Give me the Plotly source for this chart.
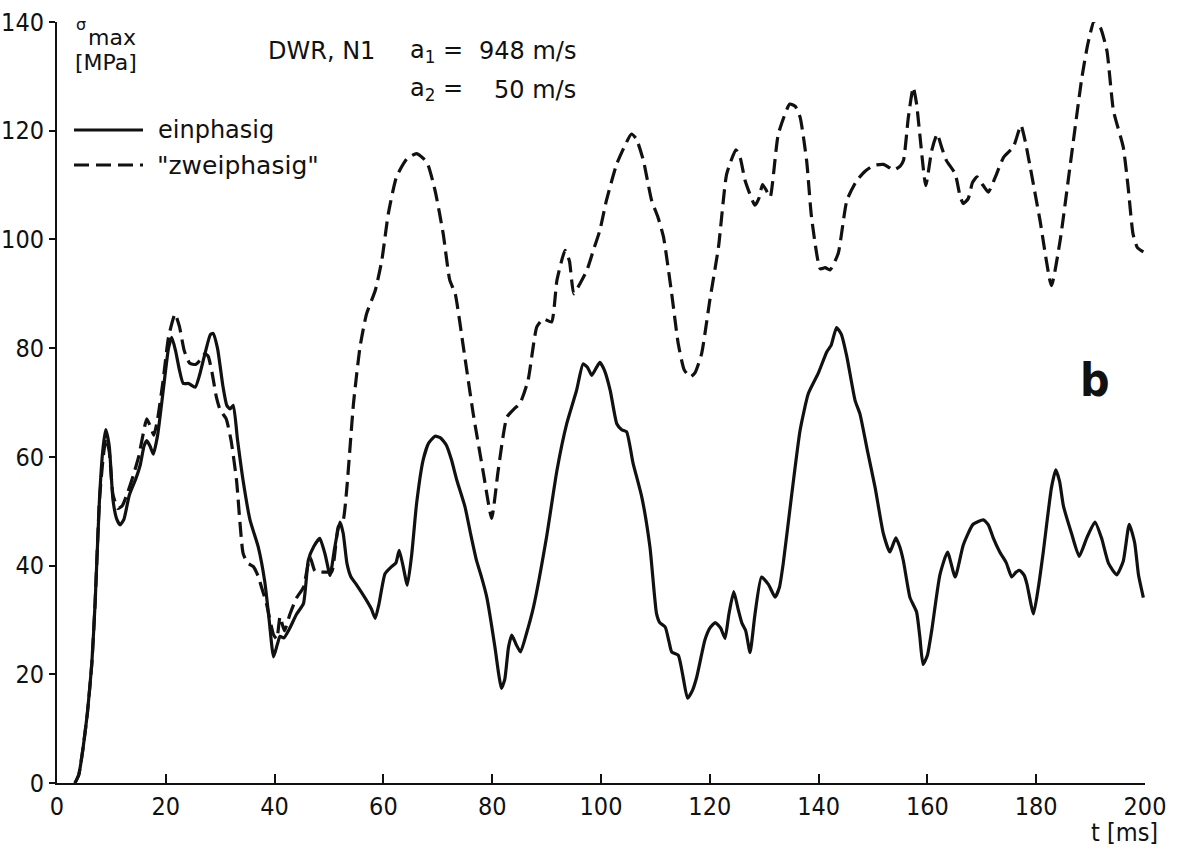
import plotly.graph_objects as go

# ---- data: einphasig (solid) ----
t_ein = [3.3, 4.0, 4.8, 5.6, 6.4, 7.0, 7.8, 8.4, 8.95, 9.6, 10.3, 11.0, 11.6, 12.3, 13.3, 14.5, 15.3, 16.0, 16.5, 17.1,
         17.7, 18.5, 19.5, 20.5, 21.1, 21.8, 22.5, 23.2, 24.2, 25.4, 26.2, 27.2, 28.2, 28.7, 29.5, 30.5, 31.2, 31.8, 32.4, 33.2,
         34.2, 35.5, 37.0, 38.2, 39.0, 39.8, 40.5, 41.0, 41.7, 42.8, 44.0, 45.3, 46.2, 47.2, 48.3, 49.3, 50.2, 51.0, 52.0, 52.6,
         53.3, 54.0, 55.1, 56.9, 57.8, 58.5, 59.2, 60.3, 61.5, 62.3, 62.9, 63.6, 64.4, 65.2, 66.1, 67.3, 68.3, 69.5, 70.5, 71.6,
         72.5, 73.5, 75.0, 76.0, 77.1, 78.0, 79.0, 80.5, 81.2, 81.7, 82.3, 83.0, 83.6, 84.4, 85.2, 86.3, 87.6, 90.0, 91.9, 93.7,
         95.5, 96.7, 97.5, 98.3, 99.2, 99.8, 100.6, 101.7, 102.9, 103.8, 104.7, 105.9, 107.5, 109.0, 110.2, 110.8, 111.8, 112.5,
         113.0, 114.2, 115.0, 115.9, 116.8, 117.6, 119.1, 120.0, 121.0, 122.0, 122.8, 123.5, 124.4, 125.2, 125.9, 126.6, 127.4,
         128.3, 129.5, 130.8, 132.0, 132.8, 133.5, 135.0, 136.6, 138.1, 139.9, 141.5, 142.3, 143.3, 144.2, 145.2, 146.7, 147.6,
         149.0, 150.4, 151.9, 153.1, 154.2, 154.9, 155.6, 156.8, 158.0, 158.6, 159.2, 160.0, 160.8, 162.3, 163.7, 165.1, 166.6,
         168.4, 170.3, 171.2, 172.1, 173.3, 174.5, 175.5, 176.3, 177.0, 177.8, 178.3, 179.5, 180.4, 181.3, 182.8, 183.6, 184.3,
         185.0, 186.5, 187.9, 189.3, 190.8, 192.0, 193.3, 194.8, 196.0, 197.1, 198.1, 198.8, 199.7]
v_ein = [0, 1.5, 6.5, 13, 22, 33, 52, 61, 65, 62, 52, 48.5, 47.5, 48.5, 53, 56, 58.5, 62, 63, 62,
         60.5, 64, 72, 80, 82, 79.5, 76, 73.5, 73.5, 72.8, 75, 79, 82.5, 82.7, 80, 73, 69.5, 68.8, 69.5, 63,
         55.7, 48.3, 43.4, 37, 30, 23.2, 25.5, 27, 26.7, 28.5, 31, 33, 41, 43.5, 45, 42, 38.2, 43, 48, 46,
         40.4, 38, 36.4, 33.6, 32, 30.3, 33, 38.5, 39.8, 40.5, 42.8, 40, 36.4, 42, 51.4, 59.4, 62.5, 63.8, 63.5, 62.1,
         59.5, 55.7, 50.8, 46, 41, 38, 34.2, 25, 20, 17.4, 19, 25, 27.2, 25.5, 24.1, 27.5, 32.4, 45.3, 57.5, 66.1,
         72.2, 77.1, 76.5, 75, 76.5, 77.4, 76, 72.2, 66.1, 65, 64.6, 58.8, 52.6, 43.4, 31.2, 29.5, 28.7, 26,
         24.1, 23.5, 20, 15.6, 17, 19.5, 26.3, 28.5, 29.5, 28.5, 26.6, 31, 35.2, 32, 29.4, 28, 24,
         31, 37.9, 36.5, 34.2, 36, 40.4, 52.6, 64.9, 71.6, 75.3, 79.3, 80.5, 83.8, 82.5, 78.4, 70.4, 67.9,
         61, 54.3, 45.9, 42.5, 45.1, 43.5, 40.8, 34.1, 31.5, 27, 21.8, 23.5, 28.1, 38.3, 42.5, 37.9, 43.8,
         47.6, 48.4, 47.5, 45.1, 42.5, 40.5, 37.9, 38.8, 39.1, 38.2, 36.6, 31.1, 36, 42.5, 54.3, 57.6, 55.5,
         51, 45.9, 41.7, 45.1, 48, 45.1, 40.4, 38.3, 40.8, 47.6, 44.2, 38.3, 34.1]

# ---- data: "zweiphasig" (dashed) ----
t_zwei = [3.3, 4.0, 4.8, 5.6, 6.4, 7.0, 7.8, 8.5, 9.0, 9.6, 10.3, 11.2, 12.0, 13.0, 14.0, 15.0, 15.8, 16.5, 17.2, 17.8,
          18.5, 19.5, 20.5, 21.7, 22.5, 23.4, 24.4, 25.5, 26.5, 27.2, 27.8, 28.5, 29.3, 30.0, 31.1, 32.0, 33.0, 34.2, 35.0, 36.1,
          37.0, 37.6, 38.5, 39.8, 40.4, 41.0, 41.8, 42.8, 44.0, 45.3, 46.5, 47.4, 48.3, 49.6, 50.5, 51.7, 52.6, 53.3, 54.5, 55.7,
          56.9, 58.5, 59.7, 60.9, 62.4, 64.3, 66.1, 68.0, 69.5, 71.0, 72.2, 73.2, 74.7, 76.5, 78.4, 79.9, 81.1, 82.7, 84.0, 85.1,
          86.6, 88.2, 89.4, 90.9, 91.9, 93.4, 94.2, 95.0, 96.2, 97.4, 98.6, 99.8, 101.0, 102.9, 104.5, 105.6, 106.5, 107.8, 109.3,
          110.5, 111.5, 113.0, 114.2, 115.3, 116.4, 117.3, 118.5, 120.0, 121.6, 123.1, 124.8, 125.6, 126.5, 128.3, 129.0, 129.7,
          130.4, 131.1, 132.6, 134.7, 135.7, 136.6, 137.8, 138.7, 140.3, 141.2, 142.1, 143.6, 145.2, 147.0, 148.5, 150.1, 151.9,
          153.0, 153.7, 155.0, 155.6, 156.5, 157.4, 158.0, 158.6, 159.7, 160.8, 161.8, 162.6, 163.5, 165.1, 166.0, 166.6, 167.5,
          168.3, 169.1, 170.2, 171.2, 172.5, 174.0, 175.8, 177.2, 178.0, 178.9, 180.7, 182.8, 184.4, 186.2, 188.4, 189.5, 190.7,
          191.8, 193.0, 194.2, 196.0, 196.9, 197.8, 198.6, 199.7]
v_zwei = [0, 1.5, 6.5, 13, 22, 33, 52, 60, 63.4, 61, 53, 50.5, 51, 53.5, 56.5, 60, 64, 67, 65.5, 64,
          67, 74, 82, 86.3, 84, 79.5, 77.2, 77, 78, 79, 78.5, 75.5, 71, 68.6, 67, 63, 55.7, 42.3, 40.5, 39.8,
          38, 36, 33, 27.3, 26.5, 30.6, 28, 31, 34, 36, 41.6, 39, 38.8, 38.8, 38.8, 47.1, 48.3, 54.5, 69.8, 80.2,
          86.3, 90.6, 96.1, 104.7, 111.5, 114.8, 115.8, 114.2, 109, 101, 92.5, 90, 80.2, 68, 56.9, 48.7, 57.5, 67.3, 68.8, 69.8,
          74.1, 83.9, 85.4, 84.8, 92.5, 98, 96, 90, 92, 94.3, 98, 101.7, 107.2, 113.9, 117.5, 119.4, 118.5, 114.5, 107.2,
          104, 100.4, 90, 80.8, 76, 74.7, 75.5, 79, 88.8, 98.6, 112, 116.5, 115, 110.8, 106.3, 107.5, 110.1,
          109, 107.8, 119.4, 124.9, 124.5, 122.5, 114.5, 104.1, 94.6, 94.8, 94.4, 97.4, 107.2, 110.8, 112.5, 113.6, 113.8,
          113.2, 112.7, 113.5, 114.5, 122.5, 128, 125, 119.4, 109.9, 116.4, 119.4, 117, 114.5, 112.1, 108, 106.6, 107.5,
          110.5, 111.5, 110, 108.7, 111.5, 115.1, 117, 121, 118, 113.3, 103.5, 91.5, 99.8, 113.3, 129.8, 136, 140.3,
          139, 134.7, 123.7, 117, 109.6, 101, 98.5, 97.7]

x_ticks = [0, 20, 40, 60, 80, 100, 120, 140, 160, 180, 200]
y_ticks = [0, 20, 40, 60, 80, 100, 120, 140]

INK = "#111111"
COND = "DejaVu Sans Condensed, DejaVu Sans, sans-serif"
TFONT = "DejaVu Sans, sans-serif"

fig = go.Figure()
fig.add_trace(go.Scatter(x=t_ein, y=v_ein, mode="lines", name="einphasig",
                         line=dict(color=INK, width=3.2, shape="spline", smoothing=0.5),
                         cliponaxis=False, showlegend=False))
fig.add_trace(go.Scatter(x=t_zwei, y=v_zwei, mode="lines", name='"zweiphasig"',
                         line=dict(color=INK, width=3.2, dash="15px,7px", shape="spline", smoothing=0.5),
                         cliponaxis=False, showlegend=False))

L, R, T, B = 57, 32, 22, 71
W, H = 1177, 854
pw, ph = W - L - R, H - T - B


def px(x):
    return (x - L) / pw


def py(y):
    return (H - B - y) / ph


ann = []


def text(s, x, y, size=24, xanchor="left", family=TFONT):
    ann.append(dict(text=s, x=px(x), y=py(y), xref="paper", yref="paper", showarrow=False,
                    xanchor=xanchor, yanchor="middle", font=dict(size=size, color=INK, family=family)))


text("σ", 74, 24, size=16)
text("max", 86, 37, size=22)
text("[MPa]", 73, 63, size=22)
text("DWR, N1", 266, 51, size=24)
text("a<sub>1</sub> =", 408, 51, size=24)
text("948 m/s", 578, 51, size=24, xanchor="right")
text("a<sub>2</sub> =", 408, 90, size=24)
text("50 m/s", 578, 90, size=24, xanchor="right")
text("einphasig", 156, 130, size=24)
text('"zweiphasig"', 155, 165, size=25)
text("<b>b</b>", 1095, 380, size=46, xanchor="center", family=COND)
text("t [ms]", 1160, 832, size=25, xanchor="right", family=COND)

shapes = [
    dict(type="line", xref="paper", yref="paper", x0=px(74), x1=px(143), y0=py(130), y1=py(130),
         line=dict(color=INK, width=3)),
    dict(type="line", xref="paper", yref="paper", x0=px(74), x1=px(143), y0=py(165), y1=py(165),
         line=dict(color=INK, width=3, dash="15px,7px")),
]

fig.update_layout(
    width=W, height=H,
    margin=dict(l=L, r=R, t=T, b=B),
    paper_bgcolor="white", plot_bgcolor="white",
    annotations=ann, shapes=shapes,
    showlegend=False,
    xaxis=dict(range=[0, 200], tickvals=x_ticks, ticktext=[str(v) for v in x_ticks],
               automargin=False,
               showgrid=False, zeroline=False, showline=True, linecolor=INK, linewidth=2,
               ticks="inside", ticklen=9, tickwidth=2, tickcolor=INK,
               tickfont=dict(size=25, color=INK, family=COND)),
    yaxis=dict(range=[0, 140], tickvals=y_ticks, ticktext=[str(v) for v in y_ticks],
               automargin=False,
               showgrid=False, zeroline=False, showline=True, linecolor=INK, linewidth=2,
               ticks="outside", ticklen=6, tickwidth=2, tickcolor=INK,
               tickfont=dict(size=25, color=INK, family=COND)),
)

fig.write_html("out.html")
